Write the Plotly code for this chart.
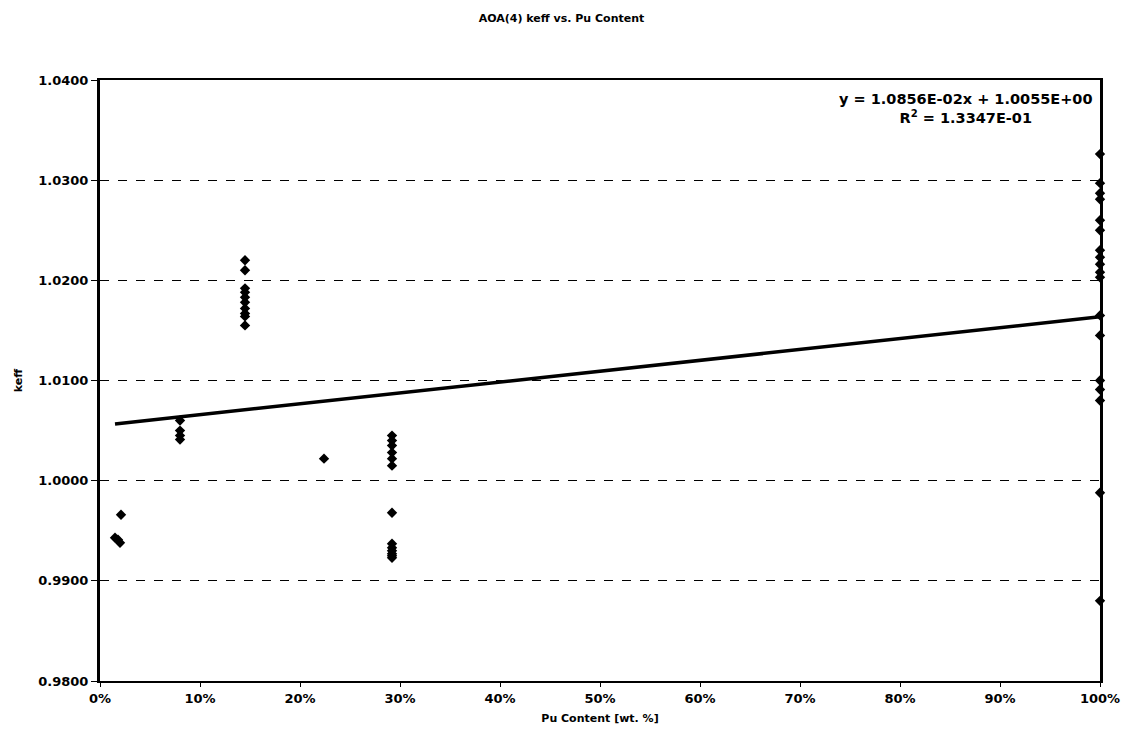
import plotly.graph_objects as go

# Data (Pu content as fraction, keff)
x_low = [0.015, 0.018, 0.020, 0.021]
y_low = [0.9943, 0.9941, 0.9938, 0.9966]

x_8 = [0.08, 0.08, 0.08, 0.08]
y_8 = [1.0060, 1.0050, 1.0045, 1.0041]

x_14 = [0.145] * 10
y_14 = [1.0220, 1.0210, 1.0192, 1.0188, 1.0183, 1.0178, 1.0172, 1.0167, 1.0164, 1.0155]

x_22 = [0.224]
y_22 = [1.0022]

x_29 = [0.292] * 13
y_29 = [1.0045, 1.0040, 1.0035, 1.0028, 1.0022, 1.0015, 0.9968,
        0.9937, 0.9933, 0.9930, 0.9927, 0.9925, 0.9923]

x_100 = [1.0] * 18
y_100 = [1.0326, 1.0297, 1.0287, 1.0281, 1.0260, 1.0250, 1.0230, 1.0223,
         1.0216, 1.0208, 1.0203, 1.0165, 1.0145, 1.0100, 1.0091, 1.0080,
         0.9988, 0.9880]

slope = 1.0856e-02
intercept = 1.0055e+00
eq_text = "y = 1.0856E-02x + 1.0055E+00<br>R<sup>2</sup> = 1.3347E-01"

y_ticks = [0.98, 0.99, 1.00, 1.01, 1.02, 1.03, 1.04]

xs = x_low + x_8 + x_14 + x_22 + x_29 + x_100
ys = y_low + y_8 + y_14 + y_22 + y_29 + y_100

fig = go.Figure()

x0, x1 = min(xs), max(xs)
fig.add_trace(go.Scatter(
    x=[x0, x1], y=[intercept + slope * x0, intercept + slope * x1],
    mode="lines", line=dict(color="black", width=3.5),
    showlegend=False, hoverinfo="skip", cliponaxis=False))

fig.add_trace(go.Scatter(
    x=xs, y=ys, mode="markers",
    marker=dict(symbol="diamond", size=8, color="black"),
    showlegend=False, cliponaxis=False))

font_family = "DejaVu Sans, Liberation Sans, Arial, sans-serif"

fig.update_layout(
    width=1123, height=751,
    margin=dict(l=100, r=23, t=80, b=70),
    paper_bgcolor="white", plot_bgcolor="white",
    font=dict(family=font_family, color="black", size=11),
    title=dict(text="<b>AOA(4) keff vs. Pu Content</b>", x=0.5, xanchor="center",
               y=1 - 18 / 751, yanchor="middle", font=dict(size=11)),
    xaxis=dict(range=[0, 1], dtick=0.1, tickformat=".0%", automargin=False,
               showline=True, linecolor="black", linewidth=2, mirror=True,
               showgrid=False, zeroline=False,
               ticks="outside", ticklen=4, tickcolor="black",
               tickfont=dict(size=13, family=font_family, weight="bold"),
               title=dict(text="<b>Pu Content [wt. %]</b>", font=dict(size=11), standoff=10)),
    yaxis=dict(range=[0.98, 1.04], tickvals=y_ticks, tickformat=".4f", automargin=False,
               showline=True, linecolor="black", linewidth=3, mirror=True,
               showgrid=True, gridcolor="black", griddash="dash", gridwidth=1,
               zeroline=False,
               ticks="outside", ticklen=6, tickcolor="black",
               tickfont=dict(size=13, family=font_family, weight="bold"),
               title=dict(text="<b>keff</b>", font=dict(size=11), standoff=14)),
)

fig.add_annotation(
    x=0.866, y=1.0372, xref="x", yref="y",
    text="<b>" + eq_text + "</b>", showarrow=False, align="center",
    font=dict(size=14.5, family=font_family))

fig.write_html("out.html")
